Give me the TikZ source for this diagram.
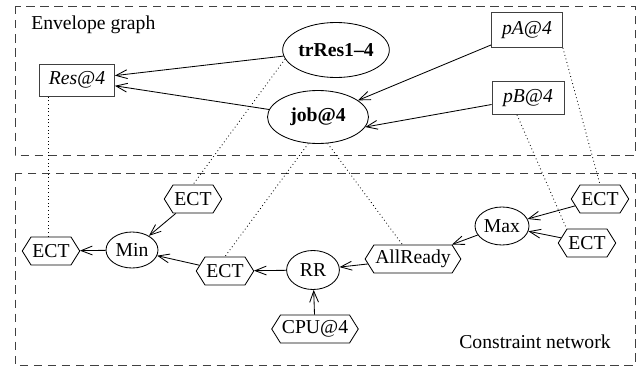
\documentclass[tikz,border=0pt]{standalone}
\usepackage{fontspec}
\setmainfont{Liberation Serif}
\usetikzlibrary{arrows.meta,shapes.geometric,shapes.symbols}

\begin{document}
\begin{tikzpicture}[
  every node/.style={font=\fontsize{14}{16}\selectfont},
  region/.style={draw=black!75, line width=0.6pt, dash pattern=on 6pt off 4pt},
  varbox/.style={draw=black!75, line width=0.6pt, inner sep=0pt,
    font=\fontsize{14}{16}\selectfont\itshape},
  task/.style={draw=black, line width=0.6pt, ellipse, inner sep=0pt,
    font=\fontsize{14}{16}\selectfont\bfseries},
  propag/.style={draw=black, line width=0.6pt, ellipse, inner sep=0pt,
    minimum width=1.32cm, minimum height=0.93cm},
  ectbox/.style={draw=black, line width=0.6pt, signal, signal to=east and west,
    signal pointer angle=116, inner xsep=1pt, inner ysep=0pt, minimum height=0.7cm},
  flow/.style={-{Straight Barb[length=2.8mm,width=2.2mm]}, line width=0.6pt},
  link/.style={dotted, line width=0.6pt}
]
\useasboundingbox (0,0) rectangle (16.1,-9.175);

% the two layers
\draw[region] (0.375,-0.15) rectangle (15.875,-3.875);
\draw[region] (0.375,-4.325) rectangle (15.875,-9.125);
\node[anchor=west, inner sep=0pt] (envtitle) at (0.775,-0.625) {Envelope graph};
\node[inner sep=0pt] (nettitle) at (13.375,-8.55) {Constraint network};

% envelope graph
\node[varbox, minimum width=1.875cm, minimum height=0.8cm] (res) at (1.925,-2.0) {Res@4};
\node[task, minimum width=2.5cm, minimum height=1.375cm] (trres) at (8.4,-1.25) {trRes1--4};
\node[task, minimum width=2.525cm, minimum height=1.325cm] (job) at (7.95,-2.925) {job@4};
\node[varbox, minimum width=1.775cm, minimum height=0.875cm] (pa) at (13.175,-0.75) {pA@4};
\node[varbox, minimum width=1.8cm, minimum height=0.825cm] (pb) at (13.2,-2.45) {pB@4};

\draw[flow] (trres) -- (res);
\draw[flow] (job) -- (res);
\draw[flow] (pa) -- (job);
\draw[flow] (pb) -- (job.-12);

% constraint network
\node[ectbox] (ecta) at (4.825,-4.975) {ECT};
\node[ectbox] (ectl) at (1.275,-6.275) {ECT};
\node[propag, minimum width=1.3cm, minimum height=0.9cm] (min) at (3.3,-6.25) {Min};
\node[ectbox] (ectm) at (5.625,-6.775) {ECT};
\node[propag, minimum height=0.975cm] (rr) at (7.825,-6.75) {RR};
\node[ectbox] (cpu) at (7.875,-8.225) {CPU@4};
\node[ectbox] (allready) at (10.325,-6.475) {AllReady};
\node[propag, minimum width=1.35cm, minimum height=0.95cm] (max) at (12.55,-5.65) {Max};
\node[ectbox] (ectra) at (15.0,-4.975) {ECT};
\node[ectbox] (ectrb) at (14.675,-6.075) {ECT};

\draw[flow] (ecta) -- (min);
\draw[flow] (min) -- (ectl);
\draw[flow] (ectm) -- (min);
\draw[flow] (rr) -- (ectm);
\draw[flow] (cpu) -- (rr);
\draw[flow] (allready) -- (rr);
\draw[flow] (max) -- (allready);
\draw[flow] (ectra) -- (max);
\draw[flow] (ectrb) -- (max);

% correspondences between the layers
\draw[link] ([xshift=-0.075cm]ectl.north) -- ([xshift=-0.075cm]ectl.north |- res.south);
\draw[link] (trres.190) -- (ecta.north);
\draw[link] (job.250) -- (ectm.north);
\draw[link] (job.290) -- (allready);
\draw[link] ([xshift=-0.275cm]pb.south) -- (ectrb.north west);
\draw[link] (pa.south east) -- (ectra.north);
\end{tikzpicture}
\end{document}
